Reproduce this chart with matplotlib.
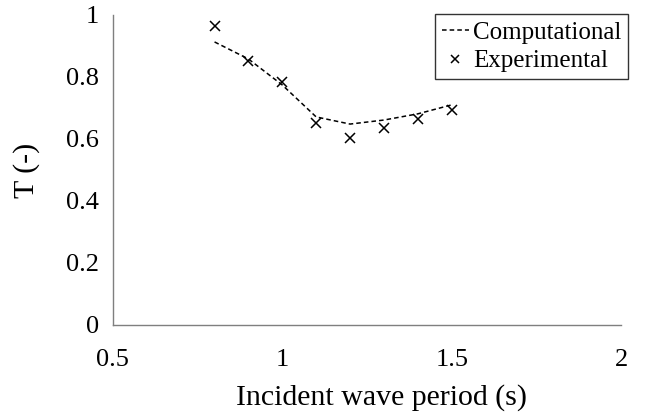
import matplotlib
matplotlib.use("Agg")
import matplotlib.pyplot as plt

period = [0.8, 0.9, 1.0, 1.1, 1.2, 1.3, 1.4, 1.5]
computational = [0.913, 0.858, 0.774, 0.671, 0.648, 0.661, 0.681, 0.71]
experimental = [0.965, 0.852, 0.784, 0.652, 0.603, 0.635, 0.665, 0.694]
xticks = [0.5, 1.0, 1.5, 2.0]
xticklabels = ["0.5", "1", "1.5", "2"]
yticks = [0, 0.2, 0.4, 0.6, 0.8, 1.0]
yticklabels = ["0", "0.2", "0.4", "0.6", "0.8", "1"]

plt.rcParams['font.family'] = ['Liberation Serif', 'DejaVu Serif']

fig = plt.figure(figsize=(6.49, 4.16), dpi=100)
ax = fig.add_axes([0.174, 0.219, 0.783, 0.745])

ax.plot(period, computational, linestyle=(0, (3, 2)), color='black', linewidth=1.1, label='Computational')
ax.plot(period, experimental, linestyle='none', marker='x', color='black', markersize=7, markeredgewidth=1.1, label='Experimental')

ax.set_xlim(0.5, 2.0)
ax.set_ylim(0, 1.0)
ax.set_xticks(xticks)
ax.set_xticklabels(xticklabels)
ax.set_yticks(yticks)
ax.set_yticklabels(yticklabels)
ax.tick_params(length=0, labelsize=19)
ax.tick_params(axis='y', pad=10)
ax.tick_params(axis='x', pad=17)
for s in ['top', 'right']:
    ax.spines[s].set_visible(False)
for s in ['left', 'bottom']:
    ax.spines[s].set_color('#7f7f7f')
    ax.spines[s].set_linewidth(1.0)

ax.set_xlabel('Incident wave period (s)', fontsize=21.5)
ax.xaxis.set_label_coords(0.528, -0.19)
ax.set_ylabel('T (-)', fontsize=21.5, labelpad=19)

leg = ax.legend(loc='upper right', bbox_to_anchor=(1.014, 1.003), fontsize=18, frameon=True, fancybox=False,
                edgecolor='black', handlelength=1.1, handletextpad=0.15, borderpad=0.28, labelspacing=0.25,
                borderaxespad=0.0, markerscale=0.8)
leg.get_frame().set_linewidth(1.0)

fig.savefig('out.png', dpi=100)
